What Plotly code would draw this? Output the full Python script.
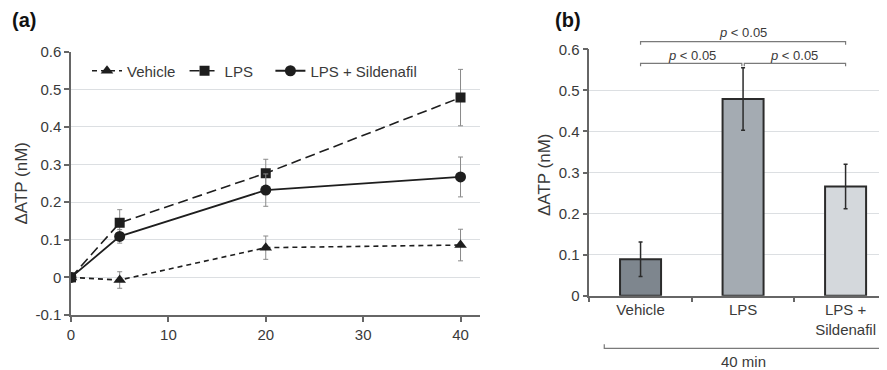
import plotly.graph_objects as go

# ---------------- data ----------------
time_min = [0, 5, 20, 40]
vehicle_mean = [0.0, -0.007, 0.079, 0.086]
vehicle_err = [0.0, 0.022, 0.031, 0.042]
lps_mean = [0.0, 0.145, 0.277, 0.478]
lps_err = [0.0, 0.035, 0.037, 0.075]
sild_mean = [0.0, 0.109, 0.232, 0.267]
sild_err = [0.0, 0.018, 0.043, 0.053]

a_xticks = [0, 10, 20, 30, 40]
a_yticks = [-0.1, 0, 0.1, 0.2, 0.3, 0.4, 0.5, 0.6]
a_ytick_text = ["-0.1", "0", "0.1", "0.2", "0.3", "0.4", "0.5", "0.6"]

bar_categories = ["Vehicle", "LPS", "LPS +<br>Sildenafil"]
bar_means = [0.089, 0.479, 0.266]
bar_errs = [0.042, 0.076, 0.054]
bar_colors = ["#7e868e", "#a4abb2", "#d4d8dc"]
b_yticks = [0, 0.1, 0.2, 0.3, 0.4, 0.5, 0.6]
b_ytick_text = ["0", "0.1", "0.2", "0.3", "0.4", "0.5", "0.6"]

sig_text = "<i>p</i> &lt; 0.05"
group_label = "40 min"

# ---------------- layout helpers ----------------
W, H = 887, 370
OFF = 8  # page body margin in the browser
FONT = "Liberation Sans, Arial, sans-serif"
TXT = "#3a3a3a"
AX = "#666666"
GRID = "#dcdfe2"


def py(p):
    return 1 - (p - OFF) / H


def pxx(p):
    return (p - OFF) / W


xa_dom = [pxx(71), pxx(480)]
ya_dom = [py(315), py(51.7)]
xb_dom = [pxx(589.3), pxx(887)]
xb_rng = [-0.5, 2.404]
yb_dom = [py(295.7), py(49.3)]


def cat_x(i):
    return xb_dom[0] + (i - xb_rng[0]) / (xb_rng[1] - xb_rng[0]) * (xb_dom[1] - xb_dom[0])


fig = go.Figure()

line_col = "#1e1e1e"
err_a = dict(type="data", thickness=1, width=2.5, color="#8a8a8a")
NB = "\u00a0"

fig.add_trace(go.Scatter(
    x=time_min, y=vehicle_mean, name="Vehicle" + NB, mode="lines+markers",
    line=dict(color=line_col, width=1.6, dash="5px,4px"),
    marker=dict(symbol="triangle-up", size=11, color=line_col),
    error_y=dict(array=vehicle_err, **err_a), xaxis="x", yaxis="y"))
fig.add_trace(go.Scatter(
    x=time_min, y=lps_mean, name="LPS" + NB * 3, mode="lines+markers",
    line=dict(color=line_col, width=1.6, dash="10px,5px"),
    marker=dict(symbol="square", size=10, color=line_col),
    error_y=dict(array=lps_err, **err_a), xaxis="x", yaxis="y"))
fig.add_trace(go.Scatter(
    x=time_min, y=sild_mean, name="LPS + Sildenafil", mode="lines+markers",
    line=dict(color=line_col, width=1.8),
    marker=dict(symbol="circle", size=11, color=line_col),
    error_y=dict(array=sild_err, **err_a), xaxis="x", yaxis="y"))

fig.add_trace(go.Bar(
    x=bar_categories, y=bar_means, width=0.40, showlegend=False,
    marker=dict(color=bar_colors, line=dict(color="#2b2b2b", width=2)),
    error_y=dict(type="data", array=bar_errs, thickness=1.5, width=2, color="#2b2b2b"),
    xaxis="x2", yaxis="y2"))

axis_common = dict(showline=True, linecolor=AX, linewidth=1.5, ticks="outside",
                   ticklen=5, tickcolor=AX, tickwidth=1.5, automargin=False,
                   tickfont=dict(family=FONT, size=15, color=TXT), zeroline=False)

fig.update_layout(
    width=W, height=H, margin=dict(l=0, r=0, t=0, b=0, pad=0, autoexpand=False),
    paper_bgcolor="white", plot_bgcolor="white",
    font=dict(family=FONT, size=15, color=TXT),
    xaxis=dict(domain=xa_dom, range=[0, 42], tickvals=a_xticks, showgrid=False,
               anchor="y", **axis_common),
    yaxis=dict(domain=ya_dom, range=[-0.1, 0.6], tickvals=a_yticks, ticktext=a_ytick_text,
               showgrid=True, gridcolor=GRID, gridwidth=1, anchor="x", **axis_common),
    xaxis2=dict(domain=xb_dom, range=xb_rng, type="category", tickson="boundaries",
                showgrid=False, anchor="y2", **axis_common),
    yaxis2=dict(domain=yb_dom, range=[0, 0.6], tickvals=b_yticks, ticktext=b_ytick_text,
                showgrid=True, gridcolor=GRID, gridwidth=1, anchor="x2", **axis_common),
    legend=dict(orientation="h", x=pxx(87), xanchor="left", y=py(71), yanchor="middle",
                bgcolor="rgba(0,0,0,0)", font=dict(family=FONT, size=15, color=TXT),
                itemwidth=30, tracegroupgap=0),
    showlegend=True,
)

ann = []
ann.append(dict(text="<b>(a)</b>", x=pxx(10), y=py(20), xref="paper", yref="paper",
                xanchor="left", yanchor="middle", showarrow=False,
                font=dict(family=FONT, size=20, color="#111")))
ann.append(dict(text="<b>(b)</b>", x=pxx(553), y=py(20), xref="paper", yref="paper",
                xanchor="left", yanchor="middle", showarrow=False,
                font=dict(family=FONT, size=20, color="#111")))
ann.append(dict(text="ΔATP (nM)", x=pxx(20.5), y=py(183), xref="paper", yref="paper",
                textangle=-90, xanchor="center", yanchor="middle", showarrow=False,
                font=dict(family=FONT, size=17, color=TXT)))
ann.append(dict(text="ΔATP (nM)", x=pxx(544), y=py(175), xref="paper", yref="paper",
                textangle=-90, xanchor="center", yanchor="middle", showarrow=False,
                font=dict(family=FONT, size=17, color=TXT)))

# significance brackets
shapes = []
br_col = "#7a7a7a"


def bracket(x0, x1, yp, tick_px):
    yt = py(yp + tick_px)
    y0 = py(yp)
    return dict(type="path", xref="paper", yref="paper",
                path=f"M {x0},{yt} L {x0},{y0} L {x1},{y0} L {x1},{yt}",
                line=dict(color=br_col, width=1.2))


shapes.append(bracket(cat_x(0), cat_x(2), 41.7, 3))
shapes.append(bracket(cat_x(0), cat_x(0.988), 63.3, 3))
shapes.append(bracket(cat_x(1.012), cat_x(2), 63.3, 3))
shapes.append(bracket(cat_x(-0.354), cat_x(2.378), 348.3, -4))

for xi, yp in [(1, 33), (0.5, 55), (1.5, 55)]:
    ann.append(dict(text=sig_text, x=cat_x(xi), y=py(yp), xref="paper", yref="paper",
                    xanchor="center", yanchor="middle", showarrow=False,
                    font=dict(family=FONT, size=13, color=TXT)))
ann.append(dict(text=group_label, x=cat_x(1), y=py(361.5), xref="paper", yref="paper",
                xanchor="center", yanchor="middle", showarrow=False,
                font=dict(family=FONT, size=15, color=TXT)))

fig.update_layout(annotations=ann, shapes=shapes)
fig.write_html("out.html")
